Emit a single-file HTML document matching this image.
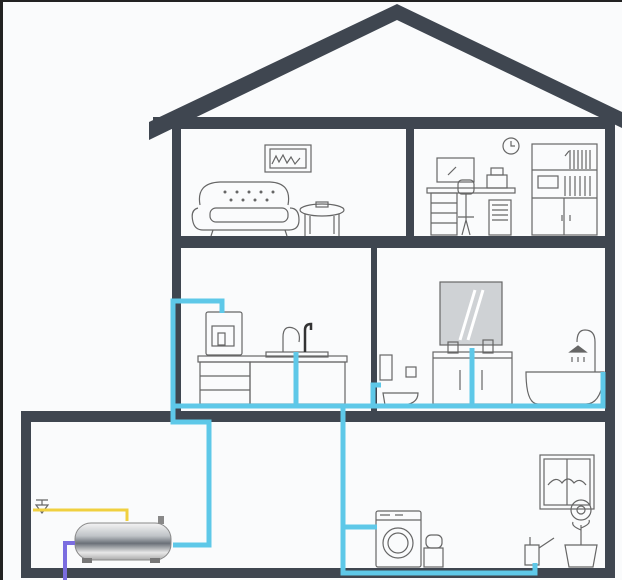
<!DOCTYPE html>
<html><head><meta charset="utf-8"><style>
html,body{margin:0;padding:0;background:#fafbfc;}
svg{display:block}
</style></head><body>
<svg width="622" height="580" viewBox="0 0 622 580" xmlns="http://www.w3.org/2000/svg">
<rect width="622" height="580" fill="#fafbfc"/>
<rect x="0" y="0" width="3" height="580" fill="#222"/>
<rect x="0" y="0" width="622" height="2" fill="#222"/>
<!-- roof -->
<polygon points="149,122 397,4 622,112 622,128 397,20 149,140" fill="#3f4650"/>
<!-- structure -->
<g fill="#3f4650">
<rect x="153" y="117" width="462" height="12"/>
<rect x="172" y="117" width="9" height="300"/>
<rect x="605" y="117" width="10" height="300"/>
<rect x="406" y="128" width="8" height="110"/>
<rect x="172" y="236" width="443" height="12"/>
<rect x="371" y="248" width="6" height="165"/>
<rect x="21" y="411" width="594" height="11"/>
<rect x="21" y="411" width="10" height="167"/>
<rect x="605" y="411" width="10" height="167"/>
<rect x="21" y="568" width="594" height="10"/>
</g>
<g fill="none" stroke="#666" stroke-width="1.2">
<!-- picture -->
<rect x="265" y="145" width="46" height="27"/><rect x="270" y="149" width="36" height="19"/>
<path d="M272 164 l4 -8 l3 6 l4 -7 l4 8 l4 -6 l4 7 l5 -6"/>
<!-- sofa -->
<path d="M200 205 q-4 -22 20 -23 h50 q22 1 18 23"/>
<path d="M198 208 q-8 2 -5 14 q2 8 10 8 h86 q10 0 10 -10 q0 -12 -9 -12"/>
<rect x="210" y="208" width="78" height="14" rx="6"/>
<path d="M213 230 l-2 6 M285 230 l2 6"/>
<g fill="#666" stroke="none"><circle cx="225" cy="192" r="1.5"/><circle cx="237" cy="192" r="1.5"/><circle cx="249" cy="192" r="1.5"/><circle cx="261" cy="192" r="1.5"/><circle cx="273" cy="192" r="1.5"/><circle cx="231" cy="200" r="1.5"/><circle cx="243" cy="200" r="1.5"/><circle cx="255" cy="200" r="1.5"/><circle cx="267" cy="200" r="1.5"/></g>
<!-- table -->
<ellipse cx="322" cy="210" rx="22" ry="6"/><path d="M305 214 v22 M339 214 v22 M310 216 v18 M334 216 v18"/>
<rect x="316" y="202" width="12" height="5"/>
<!-- office -->
<circle cx="511" cy="146" r="8"/><path d="M511 141 v5 h4"/>
<rect x="437" y="158" width="37" height="24"/><path d="M448 175 l8 -8"/>
<rect x="427" y="188" width="88" height="5"/>
<rect x="431" y="193" width="26" height="42"/><path d="M431 203 h26 M431 213 h26 M431 223 h26"/>
<rect x="458" y="180" width="16" height="14" rx="4"/><path d="M466 194 v26 M458 217 h16 M462 235 l4 -15 l4 15"/>
<rect x="487" y="175" width="20" height="13"/><rect x="491" y="168" width="12" height="7"/>
<rect x="489" y="200" width="22" height="35"/><path d="M492 205 h16 M492 210 h16 M492 215 h16 M492 220 h16"/>
<rect x="532" y="144" width="65" height="91"/><path d="M532 170 h65 M532 198 h65 M564 198 v37 M562 215 v6 M570 215 v6"/>
<path d="M570 150 v19 M574 150 v19 M578 150 v19 M582 150 v19 M586 150 v19 M590 150 v19 M565 156 l4 -5"/>
<rect x="538" y="176" width="20" height="12"/><path d="M565 176 v20 M570 176 v20 M575 176 v20 M580 176 v20 M585 176 v20 M590 176 v20"/>
<!-- kitchen -->
<rect x="206" y="312" width="36" height="43" rx="2"/><rect x="212" y="326" width="22" height="20"/><rect x="218" y="333" width="7" height="12"/>
<rect x="198" y="356" width="149" height="6"/>
<rect x="200" y="362" width="50" height="42"/><path d="M200 376 h50 M200 390 h50"/>
<rect x="250" y="362" width="95" height="42"/>
<rect x="266" y="352" width="62" height="5"/>
<path d="M283 352 v-15 q0 -12 10 -9 q8 3 6 14"/>
<path d="M305 352 v-22 q0 -6 6 -6 v6" stroke="#333" stroke-width="2.5"/>
<!-- bathroom -->
<rect x="440" y="282" width="62" height="63" fill="#cfd2d5"/>
<path d="M460 340 l15 -50 M468 340 l15 -50" stroke="#fff" stroke-width="3"/>
<rect x="433" y="352" width="79" height="52"/><path d="M433 358 h79 M472 358 v46 M460 370 v20 M482 370 v20"/>
<rect x="448" y="342" width="10" height="11"/><rect x="483" y="340" width="10" height="13"/>
<rect x="380" y="355" width="12" height="25"/><path d="M383 393 h35 q0 12 -18 12 h-15 z"/>
<rect x="406" y="367" width="10" height="10"/>
<path d="M526 372 h78 q-2 32 -18 32 h-48 q-12 0 -12 -32 z"/>
<path d="M595 372 v-30 q0 -12 -10 -12 q-8 0 -8 12"/>
<path d="M570 352 h16 l-8 -6 z" fill="#666"/>
<path d="M572 357 v5 M578 357 v5 M584 357 v5"/>
<!-- basement -->
<rect x="540" y="455" width="54" height="54"/><rect x="544" y="459" width="46" height="46"/><path d="M567 459 v46"/>
<path d="M548 485 q8 -10 14 -2 q6 -8 12 0 q6 -6 12 2"/>
<rect x="376" y="511" width="45" height="56" rx="2"/><path d="M376 520 h45"/>
<circle cx="398" cy="543" r="15"/><circle cx="398" cy="543" r="10"/>
<path d="M380 515 h10 M395 515 h8"/>
<rect x="424" y="548" width="19" height="19"/><rect x="426" y="535" width="16" height="13" rx="5"/>
<path d="M565 545 h32 l-4 22 h-24 z"/>
<path d="M581 545 v-20"/><circle cx="581" cy="510" r="10"/><circle cx="581" cy="510" r="4"/>
<path d="M581 530 q-10 -4 -8 -8 M581 528 q10 -4 8 -8"/>
<path d="M525 545 h14 v20 h-14 z M539 548 l15 -10 M530 545 v-8"/>
<path d="M36 500 h12 M42 500 v5 M36 505 h12 l-6 8 z"/>
</g>
<!-- tank -->
<defs><linearGradient id="g" x1="0" y1="0" x2="0" y2="1"><stop offset="0" stop-color="#f4f4f4"/><stop offset="0.35" stop-color="#bfc3c7"/><stop offset="0.55" stop-color="#6a7078"/><stop offset="0.8" stop-color="#e8e8e8"/><stop offset="1" stop-color="#aaa"/></linearGradient></defs>
<rect x="75" y="523" width="96" height="37" rx="16" fill="url(#g)" stroke="#888"/>
<rect x="82" y="558" width="10" height="5" fill="#777"/><rect x="150" y="558" width="10" height="5" fill="#777"/>
<rect x="158" y="516" width="6" height="8" fill="#888"/>
<!-- pipes -->
<g fill="none" stroke="#5ec8e8" stroke-width="5" stroke-linejoin="miter">
<path d="M173 545 h36 v-123 h-36 v-121 h49 v12"/>
<path d="M173 406 h430 v-34"/>
<path d="M296 352 v54"/>
<path d="M373 406 v-21 h8"/>
<path d="M472 348 v58"/>
<path d="M343 406 v167 h192 v-10"/>
<path d="M343 527 h34"/>
</g>
<path d="M33 510 h94 v11" fill="none" stroke="#f0d040" stroke-width="3"/>
<path d="M75 543 h-10 v37" fill="none" stroke="#7b6de0" stroke-width="4"/>
</svg>
</body></html>
